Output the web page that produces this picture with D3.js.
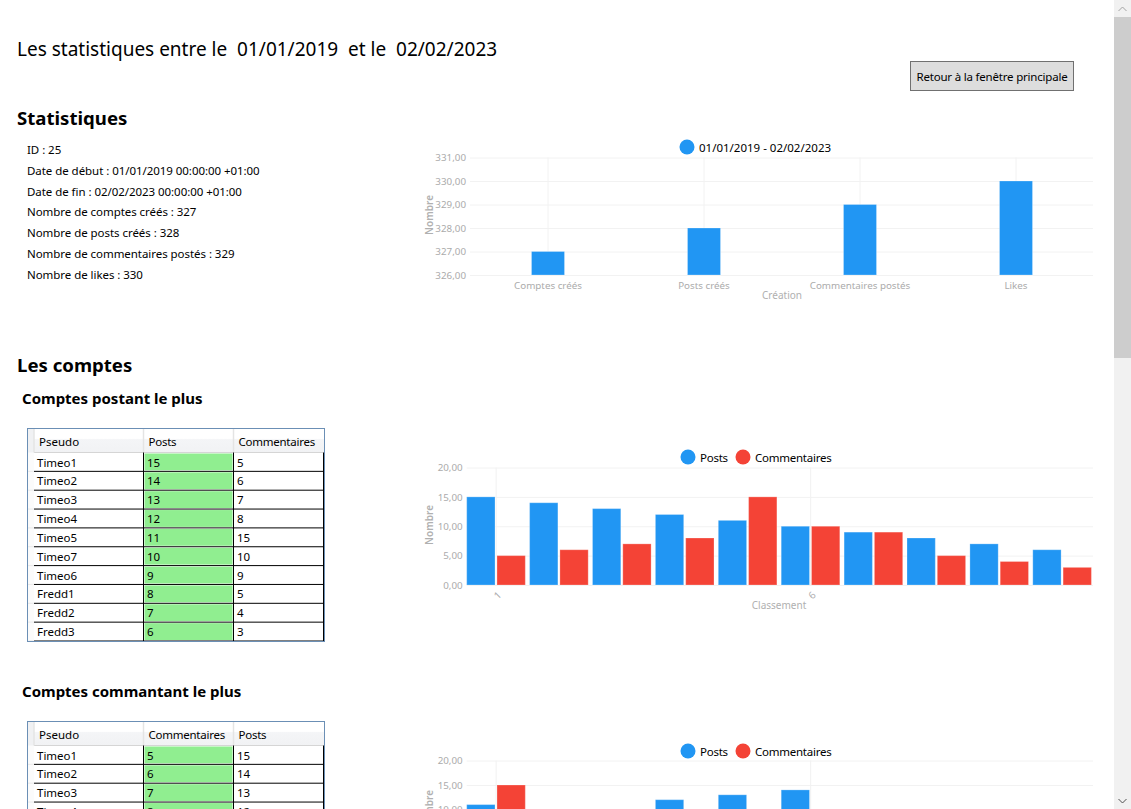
<!DOCTYPE html>
<html lang="fr">
<head>
<meta charset="utf-8">
<title>Statistiques</title>
<script src="https://cdn.jsdelivr.net/npm/d3@7"></script>
<style>
    html, body { margin: 0; padding: 0; overflow: hidden; background: #fff; }
    svg { display: block; }
    text { font-family: "Noto Sans", "Open Sans", sans-serif; fill: #000; }
    .grid line { stroke: #f2f2f2; }
    .grid path { display: none; }
    .grid text { fill: #ababab; font-size: 9.8px; }
    .axisTitle { fill: #b0b0b0; font-size: 10px; text-anchor: middle; }
    .legend { font-size: 11.5px; }
    .cell { font-size: 11.5px; }
    .tight { letter-spacing: -0.25px; }
    .bar { stroke: #fff; stroke-opacity: 0.25; }
</style>
</head>
<body>
<div id="page"></div>
<script>
// Stats block
const infoLines = [
    "ID : 25",
    "Date de début : 01/01/2019 00:00:00 +01:00",
    "Date de fin : 02/02/2023 00:00:00 +01:00",
    "Nombre de comptes créés : 327",
    "Nombre de posts créés : 328",
    "Nombre de commentaires postés : 329",
    "Nombre de likes : 330"
];

// First chart
const creationLabels = ["Comptes créés", "Posts créés", "Commentaires postés", "Likes"];
const creationValues = [327, 328, 329, 330];
const creationTicks = [326, 327, 328, 329, 330, 331];

// Second chart and first table
const postersRank = [1, 2, 3, 4, 5, 6, 7, 8, 9, 10];
const postersNames = ["Timeo1", "Timeo2", "Timeo3", "Timeo4", "Timeo5", "Timeo7", "Timeo6", "Fredd1", "Fredd2", "Fredd3"];
const postersPosts = [15, 14, 13, 12, 11, 10, 9, 8, 7, 6];
const postersComments = [5, 6, 7, 8, 15, 10, 9, 5, 4, 3];

// Third chart and second table (bottom of the chart is below the window)
const commentersRank = [1, 2, 3, 4, 5, 6, 7, 8, 9, 10];
const commentersPosts = [11, 10, 9, 12, 13, 14, 8, 7, 6, 5];
const commentersComments = [15, 10, 9, 8, 7, 6, 5, 5, 4, 3];
const tableNames = ["Timeo1", "Timeo2", "Timeo3", "Timeo4"];
const tableComments = [5, 6, 7, 8];
const tablePosts = [15, 14, 13, 12];

const countTicks = [0, 5, 10, 15, 20];

const blue = "#2196f3";
const red = "#f44336";
const frFormat = d => d3.format(".2f")(d).replace(".", ",");

let svg = d3.select("#page")
    .append("svg")
    .attr("width", 1131)
    .attr("height", 809);

let defs = svg.append("defs");
let headGradient = defs.append("linearGradient")
    .attr("id", "headFill")
    .attr("x1", 0).attr("x2", 0).attr("y1", 0).attr("y2", 1);
headGradient.append("stop").attr("offset", "0.4").attr("stop-color", "#ffffff");
headGradient.append("stop").attr("offset", "0.45").attr("stop-color", "#f4f5f7");
headGradient.append("stop").attr("offset", "1").attr("stop-color", "#f1f2f4");

function addText(x, y, txt, size, weight) {
    return svg.append("text")
        .attr("x", x)
        .attr("y", y)
        .attr("font-size", size)
        .attr("font-weight", weight || 400)
        .text(txt);
}

// Headings
addText(17, 55.5, "Les statistiques entre le  01/01/2019  et le  02/02/2023", 19).attr("xml:space", "preserve");
addText(17, 125, "Statistiques", 18.6, 700);
addText(17, 371.5, "Les comptes", 18.6, 700);
addText(22, 403.5, "Comptes postant le plus", 15, 700);
addText(22, 696.5, "Comptes commantant le plus", 15, 700);

svg.selectAll(".info")
    .data(infoLines)
    .enter()
    .append("text")
    .attr("class", "cell info")
    .attr("x", 27)
    .attr("y", (d, i) => 154 + i * 20.83)
    .attr("letter-spacing", "-0.05px")
    .text(d => d);

// Button
svg.append("rect")
    .attr("x", 910.5).attr("y", 61.5)
    .attr("width", 163).attr("height", 29)
    .attr("fill", "#dddddd")
    .attr("stroke", "#707070");
addText(992, 81, "Retour à la fenêtre principale", 11.5).attr("text-anchor", "middle").attr("letter-spacing", "-0.2px");

// Scrollbar
svg.append("rect").attr("x", 1114).attr("y", 0).attr("width", 17).attr("height", 809).attr("fill", "#f1f1f1");
svg.append("rect").attr("x", 1114).attr("y", 17).attr("width", 17).attr("height", 341).attr("fill", "#cdcdcd");
svg.append("path").attr("d", "M1118.5 11 L1122.5 7 L1126.5 11").attr("fill", "none").attr("stroke", "#a3a3a3");
svg.append("path").attr("d", "M1118.5 799 L1122.5 803 L1126.5 799").attr("fill", "none").attr("stroke", "#505050");

// Axis helper, both charts share the same grid look
function drawAxes(g, x, y, yTicks, xTicks, plot) {
    g.append("g")
        .attr("class", "grid")
        .attr("transform", `translate(${plot.left},0)`)
        .call(d3.axisLeft(y).tickValues(yTicks).tickFormat(frFormat).tickSize(-(plot.right - plot.left)).tickPadding(4));
    let xAxis = d3.axisBottom(x).tickSize(-(plot.bottom - plot.top)).tickPadding(7);
    if (xTicks) xAxis.tickValues(xTicks);
    return g.append("g")
        .attr("class", "grid")
        .attr("transform", `translate(0,${plot.bottom})`)
        .call(xAxis);
}

function drawLegend(g, items, cy) {
    items.forEach(item => {
        g.append("circle").attr("cx", item.cx).attr("cy", cy).attr("r", 7.5).attr("fill", item.color);
        g.append("text")
            .attr("class", item.tight ? "legend tight" : "legend")
            .attr("x", item.cx + 12)
            .attr("y", cy + 4.5)
            .text(item.name);
    });
}

function axisTitles(g, xTitle, xCenter, xY, yCenter) {
    g.append("text")
        .attr("class", "axisTitle")
        .attr("font-weight", 600)
        .attr("transform", `translate(433,${yCenter}) rotate(-90)`)
        .text("Nombre");
    g.append("text")
        .attr("class", "axisTitle")
        .attr("x", xCenter)
        .attr("y", xY)
        .text(xTitle);
}

// Chart 1 : creations
let plot1 = {left: 470, right: 1094, top: 157.5, bottom: 275};
let chart1 = svg.append("g");
let x1 = d3.scaleBand().domain(creationLabels).range([plot1.left, plot1.right]);
let y1 = d3.scaleLinear().domain([326, 331]).range([plot1.bottom, plot1.top]);
drawAxes(chart1, x1, y1, creationTicks, null, plot1);
chart1.selectAll(".bar")
    .data(creationLabels)
    .enter()
    .append("rect")
    .attr("class", "bar")
    .attr("x", d => x1(d) + x1.bandwidth() / 2 - 16.5)
    .attr("y", (d, i) => y1(creationValues[i]))
    .attr("width", 33)
    .attr("height", (d, i) => y1(326) - y1(creationValues[i]))
    .attr("fill", blue);
axisTitles(chart1, "Création", 782, 299, 215);
drawLegend(chart1, [{cx: 687, color: blue, name: "01/01/2019 - 02/02/2023"}], 147);

// Charts 2 and 3 : grouped bars
function groupedChart(rank, posts, comments, plot, yZero, legendY, titleY) {
    let g = svg.append("g");
    let x = d3.scaleBand().domain(rank).range([plot.left, plot.right]);
    let y = d3.scaleLinear().domain([0, 20]).range([yZero, plot.top]);
    let xAxis = drawAxes(g, x, y, countTicks, [1, 6], {left: plot.left, right: plot.right, top: plot.top, bottom: yZero});
    // the tick sits between the two bars of a pair, a bit left of the band centre
    xAxis.attr("transform", `translate(-2,${yZero})`);
    xAxis.selectAll("text")
        .attr("text-anchor", "middle")
        .attr("transform", "translate(-6,3) rotate(-45)");
    let barW = 28.3;
    let sub = d3.scaleBand().domain(["posts", "comments"]).range([0, 60.6]);
    let series = [
        {key: "posts", values: posts, color: blue},
        {key: "comments", values: comments, color: red}
    ];
    series.forEach(s => {
        g.selectAll(`.bar-${s.key}`)
            .data(rank)
            .enter()
            .append("rect")
            .attr("class", `bar bar-${s.key}`)
            .attr("x", d => x(d) + sub(s.key))
            .attr("y", (d, i) => y(s.values[i]))
            .attr("width", barW)
            .attr("height", (d, i) => y(0) - y(s.values[i]))
            .attr("fill", s.color);
    });
    axisTitles(g, "Classement", 779, yZero + 24, titleY);
    drawLegend(g, [
        {cx: 688, color: blue, name: "Posts", tight: true},
        {cx: 743, color: red, name: "Commentaires", tight: true}
    ], legendY);
}

groupedChart(postersRank, postersPosts, postersComments, {left: 466.7, right: 1095.7, top: 467.5}, 585, 457, 525);
groupedChart(commentersRank, commentersPosts, commentersComments, {left: 466.7, right: 1095.7, top: 760.5}, 858.5, 751, 810);

// Cover whatever the charts draw past the plot
svg.append("rect").attr("x", 1093).attr("y", 130).attr("width", 21).attr("height", 679).attr("fill", "#fff");

// Tables
function drawTable(top, headers, names, col1, col2) {
    let xs = [34, 143.5, 233.5, 323.5];
    let rowH = 18.85;
    let headH = 23.5;
    let rowsTop = top + headH;
    let nRows = 10;
    let g = svg.append("g");
    let bodyH = Math.min(rowH * nRows, 809 - rowsTop);

    // header band
    g.append("rect").attr("x", 34).attr("y", top).attr("width", 290).attr("height", headH).attr("fill", "url(#headFill)");
    g.append("rect").attr("x", 28).attr("y", top).attr("width", 6).attr("height", bodyH + headH).attr("fill", "#fbfbfb");
    g.append("rect").attr("x", 28).attr("y", top).attr("width", 6).attr("height", headH).attr("fill", "#f0f1f3");
    g.append("line").attr("x1", 34).attr("x2", 323.5).attr("y1", rowsTop).attr("y2", rowsTop).attr("stroke", "#d5d5d5");
    [34, 143.5, 233.5].forEach(x => {
        g.append("line").attr("x1", x).attr("x2", x).attr("y1", top).attr("y2", rowsTop).attr("stroke", "#e4e4e4").attr("stroke-width", 1.5);
    });
    headers.forEach((h, i) => {
        g.append("text")
            .attr("class", i > 0 ? "cell tight" : "cell")
            .attr("x", xs[i] + 5)
            .attr("y", top + 16.5)
            .text(h);
    });

    // rows
    names.forEach((name, i) => {
        let rowY = rowsTop + i * rowH;
        g.append("rect").attr("x", 144.5).attr("y", rowY + 1).attr("width", 88).attr("height", rowH - 2).attr("fill", "#90ee90");
        g.append("text").attr("class", "cell").attr("x", 37).attr("y", rowY + 14).text(name);
        g.append("text").attr("class", "cell").attr("x", 147).attr("y", rowY + 14).text(col1[i]);
        g.append("text").attr("class", "cell").attr("x", 237).attr("y", rowY + 14).text(col2[i]);
        g.append("line").attr("x1", 34).attr("x2", 323.5).attr("y1", rowY + rowH).attr("y2", rowY + rowH).attr("stroke", "#000");
        g.append("line").attr("x1", 28).attr("x2", 34).attr("y1", rowY + rowH).attr("y2", rowY + rowH).attr("stroke", "#e9e9e9");
    });
    [143.5, 233.5, 323.5].forEach(x => {
        g.append("line").attr("x1", x).attr("x2", x).attr("y1", rowsTop).attr("y2", rowsTop + rowH * names.length).attr("stroke", "#000");
    });

    // outer frame
    g.append("rect")
        .attr("x", 27.5).attr("y", top - 0.5)
        .attr("width", 297).attr("height", headH + rowH * nRows + 1)
        .attr("fill", "none")
        .attr("stroke", "#6b8fb5");
}

drawTable(429, ["Pseudo", "Posts", "Commentaires"], postersNames, postersPosts, postersComments);
drawTable(722, ["Pseudo", "Commentaires", "Posts"], tableNames, tableComments, tablePosts);
</script>
</body>
</html>
